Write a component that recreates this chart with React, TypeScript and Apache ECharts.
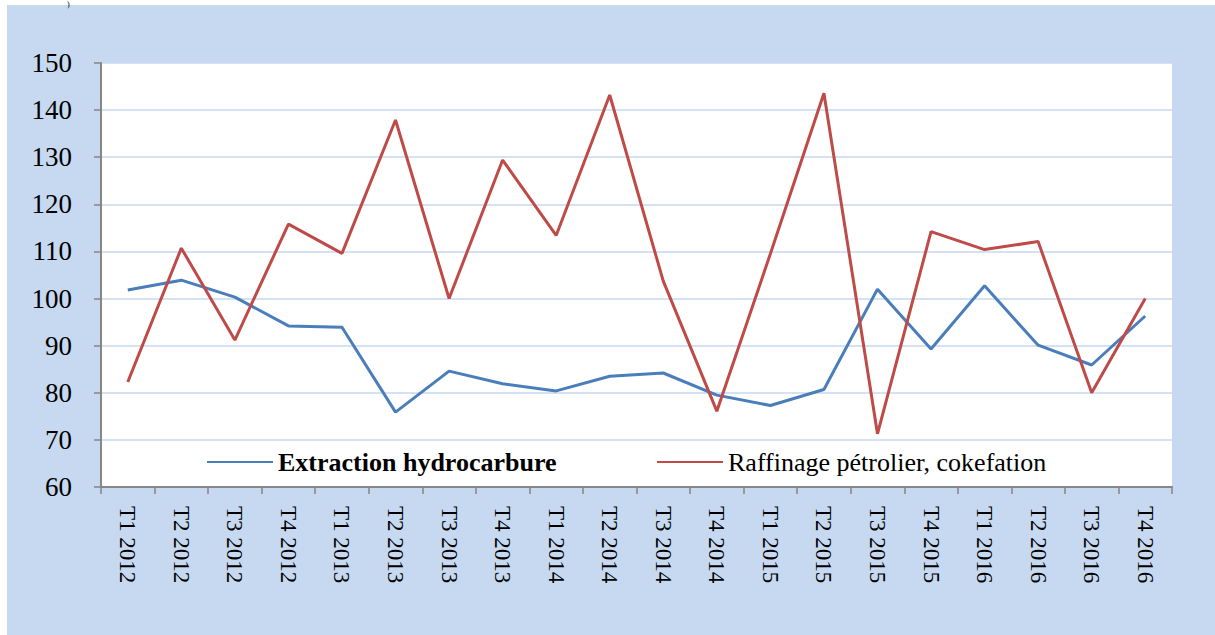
import React, { useEffect, useRef } from "react";
import * as echarts from "echarts";

const categories = [
  "T1 2012", "T2 2012", "T3 2012", "T4 2012",
  "T1 2013", "T2 2013", "T3 2013", "T4 2013",
  "T1 2014", "T2 2014", "T3 2014", "T4 2014",
  "T1 2015", "T2 2015", "T3 2015", "T4 2015",
  "T1 2016", "T2 2016", "T3 2016", "T4 2016",
];

const extraction = [
  101.8, 103.9, 100.3, 94.2, 93.9, 75.9, 84.6, 81.9, 80.4, 83.5,
  84.2, 79.5, 77.3, 80.7, 102.0, 89.3, 102.7, 90.1, 85.9, 96.3,
];

const raffinage = [
  82.3, 110.7, 91.2, 115.8, 109.6, 137.9, 100.0, 129.4, 113.4, 143.2,
  103.7, 76.1, 109.5, 143.6, 71.3, 114.2, 110.4, 112.1, 80.0, 100.0,
];

const seriesNames = ["Extraction hydrocarbure", "Raffinage pétrolier, cokefation"];
const yMin = 60;
const yMax = 150;
const yStep = 10;

const FONT = "Liberation Serif";

export default function App() {
  const ref = useRef<HTMLDivElement>(null);
  useEffect(() => {
    if (!ref.current) return;
    const chart = echarts.init(ref.current, null, { renderer: "svg" });
    chart.setOption({
      animation: false,
      backgroundColor: "#ffffff",
      textStyle: { fontFamily: FONT },
      graphic: [
        {
          type: "rect",
          z: -10,
          shape: { x: 7, y: 5, width: 1208, height: 630 },
          style: { fill: "#c6d9f0" },
        },
        {
          type: "text",
          x: 67,
          y: 0,
          style: { text: ")", fontFamily: FONT, fontSize: 8, fill: "#000" },
        },
      ],
      grid: {
        left: 101,
        top: 63,
        right: 43,
        bottom: 148,
        show: true,
        backgroundColor: "#ffffff",
        borderWidth: 0,
      },
      legend: [
        {
          data: [seriesNames[0]],
          left: 207,
          top: 449,
          padding: 0,
          itemWidth: 66,
          itemHeight: 10,
          itemGap: 6,
          icon: "path://M0,4L66,4L66,6L0,6Z",
          textStyle: { fontFamily: FONT, fontSize: 26, fontWeight: "bold", color: "#000" },
        },
        {
          data: [seriesNames[1]],
          left: 657,
          top: 449,
          padding: 0,
          itemWidth: 66,
          itemHeight: 10,
          itemGap: 6,
          icon: "path://M0,4L66,4L66,6L0,6Z",
          textStyle: { fontFamily: FONT, fontSize: 26, color: "#000" },
        },
      ],
      xAxis: {
        type: "category",
        data: categories,
        boundaryGap: true,
        axisLine: { lineStyle: { color: "#868686", width: 2 } },
        axisTick: { show: true, length: 7, lineStyle: { color: "#868686", width: 1.5 } },
        axisLabel: {
          rotate: -90,
          interval: 0,
          margin: 19,
          fontSize: 23,
          fontFamily: FONT,
          color: "#000",
          formatter: (v: string) => "{s|" + v + "}",
          rich: { s: { fontFamily: FONT, fontSize: 23, color: "#000" } },
        },
        splitLine: { show: false },
      },
      yAxis: {
        type: "value",
        min: yMin,
        max: yMax,
        interval: yStep,
        axisLine: { show: true, lineStyle: { color: "#868686", width: 2 } },
        axisTick: { show: true, length: 7, lineStyle: { color: "#868686", width: 1.5 } },
        axisLabel: {
          fontSize: 27,
          fontFamily: FONT,
          color: "#000",
          margin: 29,
          formatter: (v: number) => "{s|" + v + "}",
          rich: { s: { fontFamily: FONT, fontSize: 27, color: "#000" } },
        },
        splitLine: { show: true, lineStyle: { color: "#c6d9f0", width: 1.5 } },
      },
      series: [
        {
          name: seriesNames[0],
          type: "line",
          data: extraction,
          symbol: "none",
          lineStyle: { color: "#4a7ebb", width: 3 },
          itemStyle: { color: "#4a7ebb" },
        },
        {
          name: seriesNames[1],
          type: "line",
          data: raffinage,
          symbol: "none",
          lineStyle: { color: "#be4b48", width: 3 },
          itemStyle: { color: "#be4b48" },
        },
      ],
    });
    return () => chart.dispose();
  }, []);
  return (
    <div
      ref={ref}
      style={{ position: "absolute", left: 0, top: 0, width: 1215, height: 635 }}
    />
  );
}
